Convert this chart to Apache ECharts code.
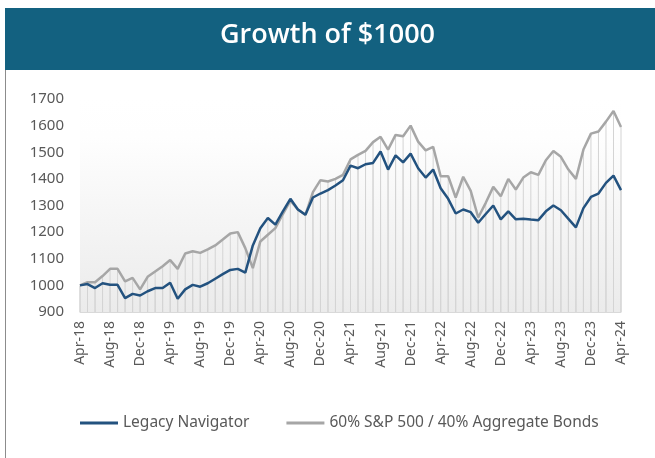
<!DOCTYPE html>
<html>
<head>
<meta charset="utf-8">
<script src="https://cdn.jsdelivr.net/npm/echarts@6/dist/echarts.min.js"></script>
<style>
html,body{margin:0;padding:0;background:#fff;}
#chart{width:655px;height:458px;}
</style>
</head>
<body>
<div id="chart"></div>
<script>
var titleText = 'Growth of $1000';
var seriesNames = ['Legacy Navigator', '60% S&P 500 / 40% Aggregate Bonds'];
var categories = [
 'Apr-18','May-18','Jun-18','Jul-18','Aug-18','Sep-18','Oct-18','Nov-18','Dec-18',
 'Jan-19','Feb-19','Mar-19','Apr-19','May-19','Jun-19','Jul-19','Aug-19','Sep-19','Oct-19','Nov-19','Dec-19',
 'Jan-20','Feb-20','Mar-20','Apr-20','May-20','Jun-20','Jul-20','Aug-20','Sep-20','Oct-20','Nov-20','Dec-20',
 'Jan-21','Feb-21','Mar-21','Apr-21','May-21','Jun-21','Jul-21','Aug-21','Sep-21','Oct-21','Nov-21','Dec-21',
 'Jan-22','Feb-22','Mar-22','Apr-22','May-22','Jun-22','Jul-22','Aug-22','Sep-22','Oct-22','Nov-22','Dec-22',
 'Jan-23','Feb-23','Mar-23','Apr-23','May-23','Jun-23','Jul-23','Aug-23','Sep-23','Oct-23','Nov-23','Dec-23',
 'Jan-24','Feb-24','Mar-24','Apr-24'
];
var legacyNav = [
 1000,1005,990,1008,1002,1002,952,968,962,
 978,990,990,1010,950,985,1002,995,1008,1025,1042,1058,
 1062,1048,1150,1215,1253,1228,1278,1325,1285,1265,1330,1345,
 1358,1375,1395,1450,1440,1455,1460,1503,1435,1488,1462,1495,
 1440,1405,1435,1365,1325,1270,1285,1275,1235,1268,1300,1248,
 1278,1248,1250,1247,1245,1278,1300,1282,1250,1218,1290,1332,
 1345,1385,1412,1358
];
var benchmark = [
 1000,1012,1012,1035,1062,1062,1015,1028,985,
 1032,1052,1072,1095,1062,1120,1128,1122,1135,1150,1172,1195,
 1200,1140,1065,1165,1190,1215,1268,1318,1285,1265,1350,1395,
 1390,1400,1415,1473,1490,1505,1538,1558,1510,1565,1560,1600,
 1540,1507,1520,1410,1410,1330,1408,1355,1255,1310,1370,1335,
 1400,1360,1405,1425,1415,1470,1505,1483,1435,1400,1510,1570,
 1578,1615,1655,1595
];
var yMin = 900, yMax = 1700, yStep = 100;

var chart = echarts.init(document.getElementById('chart'), null, {renderer:'canvas'});
var txt = '#595959';
var font = 'Noto Sans';
chart.setOption({
  animation: false,
  backgroundColor: '#ffffff',
  graphic: [
    {type:'rect', shape:{x:5, y:8, width:660, height:62}, style:{fill:'#136180'}, z:0},
    {type:'text', left:'center', top:22, style:{text:titleText, fill:'#ffffff', font:'600 27px "Open Sans"'}, z:1},
    {type:'line', shape:{x1:5.5, y1:70, x2:5.5, y2:458}, style:{stroke:'#8c8c8c', lineWidth:1}, z:0}
  ],
  grid: {
    left: 80, right: 34, top: 99, bottom: 146,
    show: true, borderWidth: 0,
    backgroundColor: {type:'linear', x:0, y:0, x2:0, y2:1, colorStops:[
      {offset:0, color:'#ffffff'}, {offset:0.18, color:'#fefefe'}, {offset:1, color:'#ebebeb'}
    ]}
  },
  legend: {
    data: seriesNames,
    left: 80, top: 415, padding: 0,
    itemWidth: 38, itemHeight: 3, itemGap: 37,
    icon: 'rect',
    textStyle: {color: txt, fontSize: 15.5, fontFamily: font}
  },
  xAxis: {
    type: 'category', data: categories, boundaryGap: false,
    axisLine: {show: true, lineStyle: {color: '#d9d9d9'}},
    axisTick: {show: false},
    axisLabel: {interval: 3, rotate: 90, color: txt, fontSize: 14, fontFamily: font, margin: 9},
    splitLine: {show: false}
  },
  yAxis: {
    type: 'value', min: yMin, max: yMax, interval: yStep,
    axisLine: {show: false}, axisTick: {show: false},
    splitLine: {show: false},
    axisLabel: {color: txt, fontSize: 15, fontFamily: font, margin: 16, formatter: function(v){ return String(v); }}
  },
  series: [
    {name:'drop1', type:'bar', data: benchmark, barWidth: 1, barGap:'-100%', itemStyle:{color:'#d4d4d4'}, silent:true, z:1, legendHoverLink:false},
    {name:'drop2', type:'bar', data: legacyNav, barWidth: 1, barGap:'-100%', itemStyle:{color:'#d4d4d4'}, silent:true, z:1, legendHoverLink:false},
    {name: seriesNames[1], type:'line', data: benchmark, showSymbol:false, symbol:'none',
     lineStyle:{color:'#a6a6a6', width:2.5}, itemStyle:{color:'#a6a6a6'}, z:3},
    {name: seriesNames[0], type:'line', data: legacyNav, showSymbol:false, symbol:'none',
     lineStyle:{color:'#23527f', width:2.5}, itemStyle:{color:'#23527f'}, z:4}
  ]
});
</script>
</body>
</html>
